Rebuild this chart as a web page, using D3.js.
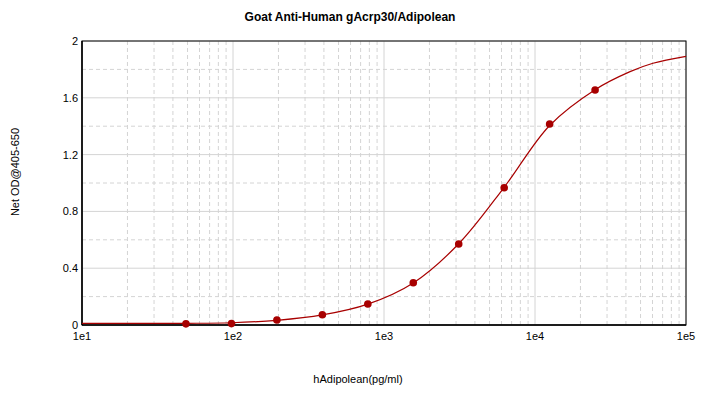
<!DOCTYPE html>
<html>
<head>
<meta charset="utf-8">
<script src="https://cdn.jsdelivr.net/npm/d3@7"></script>
<style>
  body { margin: 0; background: #fff; }
  svg { display: block; font-family: "Liberation Sans", Arial, sans-serif; }
</style>
</head>
<body>
<svg id="chart" width="704" height="400"></svg>
<script>
// standards (pg/ml) and measured OD
const concentrations = [48.8, 97.7, 195.3, 390.6, 781.3, 1562.5, 3125, 6250, 12500, 25000];
const odValues = [0.008, 0.010, 0.035, 0.072, 0.148, 0.298, 0.570, 0.967, 1.415, 1.655];

// fitted curve
const curveConc = [10, 25, 48.8, 97.7, 195.3, 390.6, 781.3, 1562.5, 3125, 6250, 12500, 25000, 42600, 60400, 100000];
const curveOd = [0.011, 0.011, 0.012, 0.016, 0.033, 0.071, 0.147, 0.296, 0.572, 0.970, 1.405, 1.657, 1.784, 1.843, 1.892];

const xTicks = [10, 100, 1000, 10000, 100000];
const xTickLabels = ["1e1", "1e2", "1e3", "1e4", "1e5"];
const yTicks = [0, 0.4, 0.8, 1.2, 1.6, 2];
const yTickLabels = ["0", "0.4", "0.8", "1.2", "1.6", "2"];

const title = "Goat Anti-Human gAcrp30/Adipolean";
const xTitle = "hAdipolean(pg/ml)";
const yTitle = "Net OD@405-650";

const margin = {left: 82, top: 41, right: 18, bottom: 75};
const width = 704, height = 400;
const svg = d3.select("#chart");

const x = d3.scaleLog().domain([10, 100000]).range([margin.left, width - margin.right]);
const y = d3.scaleLinear().domain([0, 2]).range([height - margin.bottom, margin.top]);

// grid
const minorX = [];
for (let d = 10; d < 100000; d *= 10) {
  for (let k = 2; k <= 9; k++) minorX.push(d * k);
}
const minorY = d3.range(0.2, 2, 0.4);

const grid = svg.append("g");
grid.selectAll(".gx-minor").data(minorX).join("line")
  .attr("x1", d => x(d)).attr("x2", d => x(d))
  .attr("y1", y(0)).attr("y2", y(2))
  .attr("stroke", "#d4d4d4").attr("stroke-dasharray", "4,3");
grid.selectAll(".gy-minor").data(minorY).join("line")
  .attr("x1", x(10)).attr("x2", x(100000))
  .attr("y1", d => y(d)).attr("y2", d => y(d))
  .attr("stroke", "#d4d4d4").attr("stroke-dasharray", "4,3");
grid.selectAll(".gx-major").data(xTicks).join("line")
  .attr("x1", d => x(d)).attr("x2", d => x(d))
  .attr("y1", y(0)).attr("y2", y(2))
  .attr("stroke", "#d4d4d4");
grid.selectAll(".gy-major").data(yTicks).join("line")
  .attr("x1", x(10)).attr("x2", x(100000))
  .attr("y1", d => y(d)).attr("y2", d => y(d))
  .attr("stroke", "#d4d4d4");

// frame
svg.append("rect")
  .attr("x", x(10)).attr("y", y(2))
  .attr("width", x(100000) - x(10)).attr("height", y(0) - y(2))
  .attr("fill", "none").attr("stroke", "#000").attr("stroke-width", 1);
svg.append("line").attr("x1", x(10)).attr("x2", x(10)).attr("y1", y(2)).attr("y2", y(0))
  .attr("stroke", "#000").attr("stroke-width", 1.5);
svg.append("line").attr("x1", x(10)).attr("x2", x(100000)).attr("y1", y(0)).attr("y2", y(0))
  .attr("stroke", "#000").attr("stroke-width", 1.5);

// axes labels
svg.append("g").selectAll("text").data(xTicks).join("text")
  .attr("x", d => x(d)).attr("y", y(0) + 15)
  .attr("text-anchor", "middle").attr("font-size", 11).attr("fill", "#000")
  .text((d, i) => xTickLabels[i]);
svg.append("g").selectAll("text").data(yTicks).join("text")
  .attr("x", x(10) - 4).attr("y", d => y(d) + 4)
  .attr("text-anchor", "end").attr("font-size", 11).attr("fill", "#000")
  .text((d, i) => yTickLabels[i]);

// fitted curve
const line = d3.line()
  .x(d => x(d[0])).y(d => y(d[1]))
  .curve(d3.curveCatmullRom.alpha(0.5));
svg.append("path")
  .datum(d3.zip(curveConc, curveOd))
  .attr("d", line)
  .attr("fill", "none").attr("stroke", "#a80000").attr("stroke-width", 1.2);

// points
svg.append("g").selectAll("circle").data(d3.zip(concentrations, odValues)).join("circle")
  .attr("cx", d => x(d[0])).attr("cy", d => y(d[1]))
  .attr("r", 3.8).attr("fill", "#a80000");

// titles
svg.append("text").attr("x", 350).attr("y", 21)
  .attr("text-anchor", "middle").attr("font-size", 12).attr("font-weight", "bold")
  .text(title);
svg.append("text").attr("x", 358).attr("y", 383)
  .attr("text-anchor", "middle").attr("font-size", 11)
  .text(xTitle);
svg.append("text")
  .attr("transform", "translate(19,172) rotate(-90)")
  .attr("text-anchor", "middle").attr("font-size", 11)
  .text(yTitle);
</script>
</body>
</html>
